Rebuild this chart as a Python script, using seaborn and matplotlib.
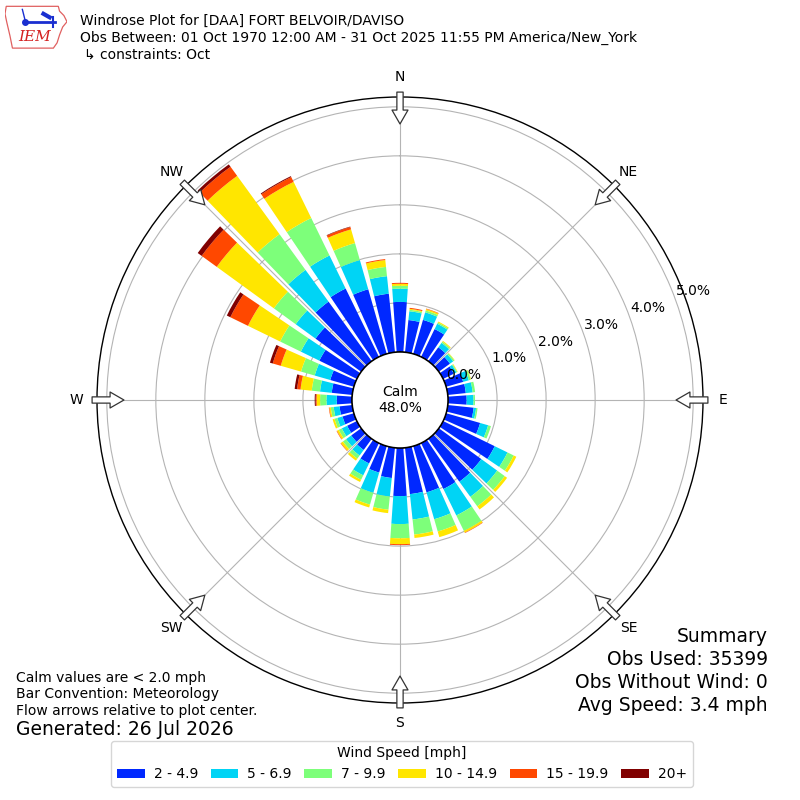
import numpy as np
import pandas as pd
import matplotlib
matplotlib.use("Agg")
import matplotlib.pyplot as plt
import seaborn as sns
from matplotlib.patches import Patch, Circle, Polygon

# direction (deg, wind from) and speed classes
directions = np.arange(0, 360, 10)
speed_bins = ['2 - 4.9', '5 - 6.9', '7 - 9.9', '10 - 14.9', '15 - 19.9', '20+']
bin_colors = ['#0028ff', '#00d4f5', '#7dff7a', '#ffe600', '#ff4800', '#800000']

# percent of obs per direction for each speed class
pct_2_5 = [1.02, 0.66, 0.72, 0.63, 0.35, 0.28, 0.24, 0.36, 0.37, 0.38, 0.53, 0.72,
           1.17, 1.07, 1.08, 1.04, 0.98, 0.95, 0.98, 0.62, 0.56, 0.46, 0.28, 0.25,
           0.22, 0.24, 0.26, 0.31, 0.42, 0.50, 0.85, 1.15, 1.50, 1.55, 1.37, 1.20]
pct_5_7 = [0.27, 0.18, 0.16, 0.12, 0.11, 0.08, 0.06, 0.12, 0.14, 0.14, 0.05, 0.17,
           0.29, 0.40, 0.38, 0.60, 0.57, 0.52, 0.57, 0.38, 0.43, 0.27, 0.14, 0.13,
           0.12, 0.11, 0.12, 0.21, 0.24, 0.33, 0.42, 0.50, 0.80, 0.75, 0.62, 0.36]
pct_7_10 = [0.06, 0.03, 0.04, 0.03, 0.03, 0.03, 0.02, 0.04, 0.05, 0.03, 0.03, 0.06,
            0.14, 0.19, 0.24, 0.35, 0.26, 0.31, 0.29, 0.27, 0.25, 0.10, 0.08, 0.08,
            0.07, 0.06, 0.06, 0.13, 0.17, 0.29, 0.47, 0.55, 0.90, 0.85, 0.36, 0.19]
pct_10_15 = [0.04, 0.02, 0.03, 0.02, 0.02, 0.01, 0.01, 0.01, 0.00, 0.00, 0.00, 0.00,
             0.06, 0.06, 0.08, 0.04, 0.12, 0.07, 0.12, 0.07, 0.06, 0.05, 0.05, 0.05,
             0.04, 0.04, 0.03, 0.07, 0.23, 0.43, 0.73, 1.44, 1.47, 0.82, 0.29, 0.14]
pct_15_20 = [0.02, 0.02, 0.01, 0.00, 0.00, 0.00, 0.00, 0.00, 0.00, 0.00, 0.00, 0.00,
             0.00, 0.00, 0.00, 0.01, 0.00, 0.00, 0.02, 0.00, 0.00, 0.00, 0.00, 0.01,
             0.01, 0.00, 0.01, 0.02, 0.07, 0.17, 0.40, 0.38, 0.23, 0.11, 0.05, 0.02]
pct_20 = [0.00, 0.00, 0.00, 0.00, 0.00, 0.00, 0.00, 0.00, 0.00, 0.00, 0.00, 0.00,
          0.00, 0.00, 0.00, 0.00, 0.00, 0.00, 0.00, 0.00, 0.00, 0.00, 0.00, 0.00,
          0.00, 0.00, 0.00, 0.02, 0.05, 0.06, 0.08, 0.10, 0.06, 0.02, 0.01, 0.00]

calm_pct = 48.0
compass = ['N', 'NE', 'E', 'SE', 'S', 'SW', 'W', 'NW']
rticks = [0, 1, 2, 3, 4, 5]

# long table for seaborn
rows = []
for name, vals in zip(speed_bins, [pct_2_5, pct_5_7, pct_7_10, pct_10_15, pct_15_20, pct_20]):
    for d, v in zip(directions, vals):
        rows.append({'theta': np.deg2rad(d), 'speed': name, 'pct': v})
df = pd.DataFrame(rows)

fig = plt.figure(figsize=(8, 8), dpi=100)
ax = fig.add_axes([0.12125, 0.12125, 0.7575, 0.7575], projection='polar')
ax.set_theta_zero_location('N')
ax.set_theta_direction(-1)

edges = np.deg2rad(np.arange(-5, 360, 10)).tolist()
# seaborn stacks the last hue level at the bottom
sns.histplot(data=df, x='theta', weights='pct', hue='speed',
             hue_order=speed_bins[::-1], palette=bin_colors[::-1],
             multiple='stack', bins=edges, shrink=0.8, alpha=1,
             edgecolor='none', linewidth=0, legend=False, ax=ax)

rorigin = -0.98
rmax = 5.2
ax.set_rorigin(rorigin)
ax.set_ylim(0, rmax)
ax.set_xlabel('')
ax.set_ylabel('')
ax.set_axisbelow(True)

ax.set_yticks(rticks[1:])
ax.set_yticklabels([])
ax.set_xticks(np.deg2rad(np.arange(0, 360, 45)))
ax.set_xticklabels(compass)
ax.tick_params(axis='x', pad=7.5, length=0, labelsize=10)
ax.grid(True, color='#b4b4b4', linewidth=0.8)
ax.spines['polar'].set_color('black')
ax.spines['polar'].set_linewidth(1.0)

# radial labels, offset up-right from each ring
for v in rticks:
    ax.annotate(f'{v:.1f}%', xy=(np.deg2rad(70.1), v), xytext=(13, 6.3),
                textcoords='offset points', ha='center', va='center',
                fontsize=10, zorder=7, annotation_clip=False)

# calm circle
calm = Circle((0.5, 0.5), 48 / 606, transform=ax.transAxes, facecolor='white',
              edgecolor='black', linewidth=1.1, zorder=5, clip_on=False)
ax.add_patch(calm)
ax.text(0.5, 0.5, f'Calm\n{calm_pct:.1f}%', transform=ax.transAxes,
        ha='center', va='center', fontsize=10, zorder=6)

# flow arrows at compass points
for ang in np.arange(0, 360, 45):
    th = np.deg2rad(ang)
    ax.annotate('', xy=(th, 4.65), xytext=(th, 5.30),
                arrowprops=dict(arrowstyle='simple,head_length=1.0,head_width=1.15,tail_width=0.45',
                                fc='white', ec='#333333', lw=0.9, shrinkA=0, shrinkB=0,
                                mutation_scale=10),
                annotation_clip=False, zorder=8)

# header
fig.text(80 / 800, 1 - 25 / 800, 'Windrose Plot for [DAA] FORT BELVOIR/DAVISO',
         fontsize=10, va='baseline')
fig.text(80 / 800, 1 - 42 / 800,
         'Obs Between: 01 Oct 1970 12:00 AM - 31 Oct 2025 11:55 PM America/New_York',
         fontsize=10, va='baseline')
fig.text(84 / 800, 1 - 59 / 800, '\u21b3 constraints: Oct', fontsize=10, va='baseline')

# logo
lax = fig.add_axes([5 / 800, 1 - 49 / 800, 62 / 800, 44 / 800])
lax.set_xlim(0, 1)
lax.set_ylim(0, 1)
lax.axis('off')
iowa = [(0.02, 0.97), (0.86, 0.97), (0.88, 0.86), (0.95, 0.76), (1.0, 0.62),
        (0.93, 0.5), (0.88, 0.32), (0.84, 0.14), (0.78, 0.02), (0.12, 0.02),
        (0.08, 0.3), (0.03, 0.6), (0.0, 0.8)]
lax.add_patch(Polygon(iowa, closed=True, fill=False, edgecolor='#e06060', linewidth=0.9))
lax.text(0.47, 0.28, 'IEM', color='#d42020', fontsize=11, style='italic',
         family='DejaVu Serif', ha='center', va='center')
lax.plot([0.3, 0.8], [0.62, 0.62], color='#1a2fd0', linewidth=2.0)
lax.plot([0.33], [0.62], 'o', color='#1a2fd0', markersize=4)
lax.plot([0.78, 0.78], [0.5, 0.72], color='#1a2fd0', linewidth=1.5)
lax.plot([0.62, 0.72], [0.8, 0.72], color='#1a2fd0', linewidth=3)
lax.plot([0.33, 0.28], [0.62, 0.9], color='#1a2fd0', linewidth=1.0)

# notes bottom left
fig.text(16 / 800, 1 - 682 / 800, 'Calm values are < 2.0 mph', fontsize=10, va='baseline')
fig.text(16 / 800, 1 - 698 / 800, 'Bar Convention: Meteorology', fontsize=10, va='baseline')
fig.text(16 / 800, 1 - 715 / 800, 'Flow arrows relative to plot center.', fontsize=10, va='baseline')
fig.text(16 / 800, 1 - 735 / 800, 'Generated: 26 Jul 2026', fontsize=13.5, va='baseline')

# summary bottom right
summary = ['Summary', 'Obs Used: 35399', 'Obs Without Wind: 0', 'Avg Speed: 3.4 mph']
for i, line in enumerate(summary):
    fig.text(768 / 800, 1 - (642 + 23 * i) / 800, line, fontsize=13.5,
             ha='right', va='baseline')

handles = [Patch(facecolor=c, edgecolor='none') for c in bin_colors]
fig.legend(handles, speed_bins, loc='upper center', bbox_to_anchor=(402 / 800, 1 - 734 / 800),
           ncol=6, title='Wind Speed [mph]', fontsize=10, title_fontsize=10,
           handlelength=2.0, handleheight=0.65, handletextpad=0.65,
           columnspacing=0.9, borderpad=0.4, frameon=True)

fig.savefig('out.png', dpi=100)
